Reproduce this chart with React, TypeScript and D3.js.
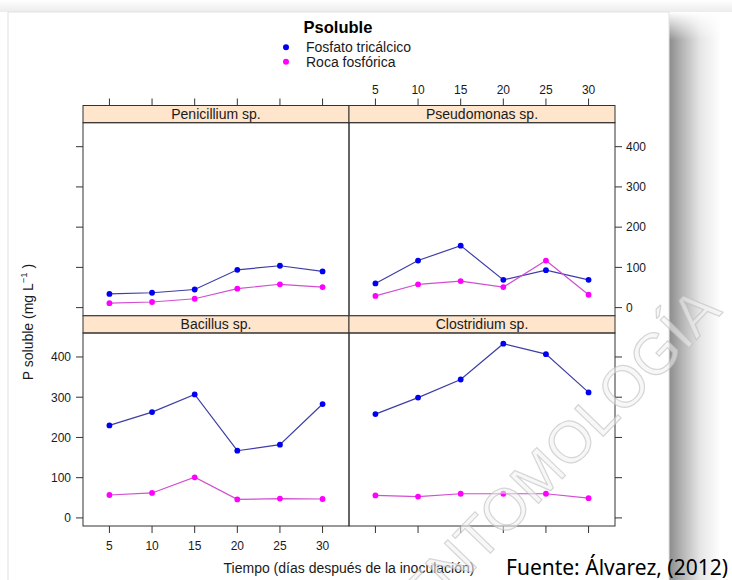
import React from 'react';
import * as d3 from 'd3';

// ---------- data ----------
const days = [5, 10, 15, 20, 25, 30];
const xTicks = [5, 10, 15, 20, 25, 30];
const yTicks = [0, 100, 200, 300, 400];
const seriesNames = ['Fosfato tricálcico', 'Roca fosfórica'];
const pointColors = ['#0000f0', '#ff00ff'];
const lineColors = ['#3e3ea6', '#d24ed2'];
const panelNames = ['Penicillium sp.', 'Pseudomonas sp.', 'Bacillus sp.', 'Clostridium sp.'];

const penicilliumFosfato = [34, 37, 45, 94, 104, 90];
const penicilliumRoca = [11, 14, 22, 47, 58, 51];
const pseudomonasFosfato = [60, 117, 154, 69, 93, 69];
const pseudomonasRoca = [29, 58, 66, 51, 117, 32];
const bacillusFosfato = [230, 263, 307, 167, 182, 283];
const bacillusRoca = [57, 62, 101, 46, 48, 47];
const clostridiumFosfato = [258, 299, 344, 433, 407, 312];
const clostridiumRoca = [56, 53, 60, 60, 60, 49];

const panelSeries = [
  [penicilliumFosfato, penicilliumRoca],
  [pseudomonasFosfato, pseudomonasRoca],
  [bacillusFosfato, bacillusRoca],
  [clostridiumFosfato, clostridiumRoca],
];

// ---------- layout ----------
const W = 732;
const H = 580;
const colX = [83, 349];
const panelW = 266;
const stripTop = [105.5, 315.8];
const stripH = 17.2;
const plotH = 193;
const tickLen = 7;
const font = '"Liberation Sans", Arial, sans-serif';
const textCol = '#1a1a1a';
const axisCol = '#333';

export default function App() {
  const lineGen = (xs: d3.ScaleLinear<number, number>, ys: d3.ScaleLinear<number, number>) =>
    d3
      .line<number>()
      .x((_, i) => xs(days[i]))
      .y((v) => ys(v));

  const panels = panelNames.map((name, p) => {
    const col = p % 2;
    const row = Math.floor(p / 2);
    const x0 = colX[col];
    const sTop = stripTop[row];
    const pTop = sTop + stripH;
    const xs = d3.scaleLinear().domain([1.9, 33.1]).range([x0, x0 + panelW]);
    const ys = d3.scaleLinear().domain([-20.1, 459.6]).range([pTop + plotH, pTop]);
    return { name, p, col, row, x0, sTop, pTop, xs, ys };
  });

  return (
    <svg
      width={W}
      height={H}
      viewBox={`0 0 ${W} ${H}`}
      style={{ position: 'absolute', left: 0, top: 0, display: 'block' }}
    >
      <defs>
        <linearGradient id="shadowR" x1="0" x2="1" y1="0" y2="0">
          <stop offset="0" stopColor="#8c8c8c" />
          <stop offset="0.25" stopColor="#b4b4b4" />
          <stop offset="0.6" stopColor="#e6e6e6" />
          <stop offset="1" stopColor="#ffffff" />
        </linearGradient>
        <linearGradient id="shadowT" x1="0" x2="0" y1="0" y2="1">
          <stop offset="0" stopColor="#ffffff" />
          <stop offset="1" stopColor="#ececec" />
        </linearGradient>
        <linearGradient id="shadowRTop" x1="0" x2="0" y1="0" y2="1">
          <stop offset="0" stopColor="#ffffff" stopOpacity="1" />
          <stop offset="1" stopColor="#ffffff" stopOpacity="0" />
        </linearGradient>
      </defs>

      {/* page background + card with shadow */}
      <rect x={0} y={0} width={W} height={H} fill="#ffffff" />
      <rect x={0} y={0} width={W} height={12} fill="url(#shadowT)" />
      <rect x={669} y={12} width={52} height={H - 12} fill="url(#shadowR)" />
      <rect x={669} y={12} width={52} height={28} fill="url(#shadowRTop)" />
      <rect x={8} y={12} width={661} height={H} fill="#ffffff" stroke="#e2e2e2" strokeWidth={1} />

      {/* title */}
      <text x={338} y={32.7} textAnchor="middle" fontFamily={font} fontWeight="bold" fontSize={16.5} fill="#000">
        Psoluble
      </text>

      {/* legend */}
      {seriesNames.map((s, i) => (
        <g key={s}>
          <circle cx={286} cy={47.3 + i * 14.4} r={3} fill={pointColors[i]} />
          <text x={306} y={52.3 + i * 14.4} fontFamily={font} fontSize={14} fill={textCol}>
            {s}
          </text>
        </g>
      ))}

      {/* panels */}
      {panels.map(({ name, p, col, row, x0, sTop, pTop, xs, ys }) => {
        const line = lineGen(xs, ys);
        return (
          <g key={name}>
            {/* strip */}
            <rect x={x0} y={sTop} width={panelW} height={stripH} fill="#ffe5cc" stroke={axisCol} strokeWidth={1} />
            <text
              x={x0 + panelW / 2}
              y={sTop + stripH / 2 + 5}
              textAnchor="middle"
              fontFamily={font}
              fontSize={14}
              fill={textCol}
            >
              {name}
            </text>
            {/* plot border */}
            <rect x={x0} y={pTop} width={panelW} height={plotH} fill="none" stroke={axisCol} strokeWidth={1} />

            {/* series */}
            {panelSeries[p].map((vals, si) => (
              <g key={si}>
                <path d={line(vals) || ''} fill="none" stroke={lineColors[si]} strokeWidth={1.2} />
                {vals.map((v, i) => (
                  <circle key={i} cx={xs(days[i])} cy={ys(v)} r={2.9} fill={pointColors[si]} />
                ))}
              </g>
            ))}

            {/* top axis */}
            {row === 0 &&
              xTicks.map((t) => (
                <g key={'t' + t}>
                  <line x1={xs(t)} x2={xs(t)} y1={sTop} y2={sTop - tickLen} stroke={axisCol} />
                  {col === 1 && (
                    <text x={xs(t)} y={sTop - 11.5} textAnchor="middle" fontFamily={font} fontSize={12} fill={textCol}>
                      {t}
                    </text>
                  )}
                </g>
              ))}

            {/* bottom axis */}
            {row === 1 &&
              xTicks.map((t) => (
                <g key={'b' + t}>
                  <line x1={xs(t)} x2={xs(t)} y1={pTop + plotH} y2={pTop + plotH + tickLen} stroke={axisCol} />
                  {col === 0 && (
                    <text x={xs(t)} y={pTop + plotH + 24} textAnchor="middle" fontFamily={font} fontSize={12} fill={textCol}>
                      {t}
                    </text>
                  )}
                </g>
              ))}

            {/* left axis */}
            {col === 0 &&
              yTicks.map((t) => (
                <g key={'l' + t}>
                  <line x1={x0} x2={x0 - tickLen} y1={ys(t)} y2={ys(t)} stroke={axisCol} />
                  {row === 1 && (
                    <text x={x0 - 12} y={ys(t) + 4.3} textAnchor="end" fontFamily={font} fontSize={12} fill={textCol}>
                      {t}
                    </text>
                  )}
                </g>
              ))}

            {/* right axis */}
            {col === 1 &&
              yTicks.map((t) => (
                <g key={'r' + t}>
                  <line x1={x0 + panelW} x2={x0 + panelW + tickLen} y1={ys(t)} y2={ys(t)} stroke={axisCol} />
                  {row === 0 && (
                    <text x={x0 + panelW + 11} y={ys(t) + 4.3} textAnchor="start" fontFamily={font} fontSize={12} fill={textCol}>
                      {t}
                    </text>
                  )}
                </g>
              ))}
          </g>
        );
      })}

      {/* axis titles */}
      <text x={349} y={573} textAnchor="middle" fontFamily={font} fontSize={14} fill={textCol}>
        Tiempo (días después de la inoculación)
      </text>
      <text
        transform="translate(33,322) rotate(-90)"
        textAnchor="middle"
        fontFamily={font}
        fontSize={14}
        fill={textCol}
      >
        P soluble (mg L
        <tspan fontSize={9.5} dy={-6}>
          −1
        </tspan>
        <tspan dy={6}> )</tspan>
      </text>

      {/* watermark */}
      <text
        transform="translate(424,622) rotate(-46)"
        fontFamily={font}
        fontSize={58}
        fill="#f1f1f1"
        fillOpacity={0.55}
        stroke="#bdbdbd"
        strokeOpacity={0.6}
        strokeWidth={1.2}
      >
        ENTOMOLOGÍA
      </text>

      {/* source */}
      <text x={506} y={575} fontFamily='"Noto Sans", "Open Sans", sans-serif' fontSize={21} fill="#000">
        Fuente: Álvarez, (2012)
      </text>
    </svg>
  );
}
